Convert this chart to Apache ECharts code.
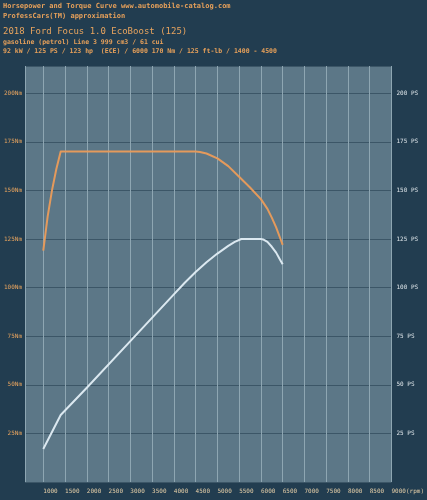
<!DOCTYPE html>
<html>
<head>
<meta charset="utf-8">
<script src="https://cdn.jsdelivr.net/npm/echarts@6/dist/echarts.min.js"></script>
<style>
html,body{margin:0;padding:0;background:#223d50;}
#c{width:427px;height:500px;}
</style>
</head>
<body>
<div id="c"></div>
<script>
const titleLines = [
  'Horsepower and Torque Curve www.automobile-catalog.com',
  'ProfessCars(TM) approximation'
];
const carTitle = '2018 Ford Focus 1.0 EcoBoost (125)';
const specLines = [
  'gasoline (petrol) Line 3 999 cm3 / 61 cui',
  '92 kW / 125 PS / 123 hp  (ECE) / 6000 170 Nm / 125 ft-lb / 1400 - 4500'
];
const torqueRpm = [1000, 1100, 1200, 1300, 1400, 2000, 3000, 4000, 4500, 4600, 4750, 5000, 5250, 5500, 5750, 6000, 6150, 6250, 6350, 6450, 6500];
const torqueNm  = [119, 136.5, 150, 161, 170, 170, 170, 170, 170, 169.8, 169, 166.5, 162.5, 157, 151.5, 145.5, 140.5, 136, 131, 125, 122];
const powerRpm = [1000, 1400, 2000, 3000, 4000, 4250, 4500, 4750, 5000, 5250, 5400, 5550, 6000, 6050, 6150, 6250, 6350, 6450, 6500];
const powerPS  = [17, 34.5, 48.5, 72.5, 96.5, 102.5, 108, 113, 117.5, 121.5, 123.5, 125, 125, 124.8, 123.5, 121, 118, 114, 112];
const yTicks = [25, 50, 75, 100, 125, 150, 175, 200];

const chart = echarts.init(document.getElementById('c'), null, {renderer: 'canvas'});
const mono = 'DejaVu Sans Mono';
const yMax = 214;
chart.setOption({
  backgroundColor: '#223d50',
  animation: false,
  graphic: [
    {type: 'text', left: 3, top: 3, style: {text: titleLines[0], fill: '#e6a05a', font: 'bold 7px "DejaVu Sans Mono"'}},
    {type: 'text', left: 3, top: 13, style: {text: titleLines[1], fill: '#e6a05a', font: 'bold 7px "DejaVu Sans Mono"'}},
    {type: 'text', left: 3, top: 27, style: {text: carTitle, fill: '#e8a45e', font: '9px "DejaVu Sans Mono"'}},
    {type: 'text', left: 3, top: 39, style: {text: specLines[0], fill: '#e6a05a', font: 'bold 6.5px "DejaVu Sans Mono"'}},
    {type: 'text', left: 3, top: 48, style: {text: specLines[1], fill: '#e6a05a', font: 'bold 6.5px "DejaVu Sans Mono"'}}
  ],
  grid: {left: 25, right: 32, top: 66, bottom: 18, show: true, backgroundColor: '#5c7787', borderWidth: 0},
  xAxis: {
    type: 'value', min: 580, max: 9000, splitNumber: 17, minInterval: 500, maxInterval: 500,
    axisLine: {show: false}, axisTick: {show: false},
    axisLabel: {
      color: '#e6cfa8', fontFamily: mono, fontSize: 6, margin: 6, align: 'left',
      showMinLabel: true, showMaxLabel: true,
      formatter: v => (v % 500 !== 0 ? '' : (v === 9000 ? '9000(rpm)' : String(v)))
    },
    splitLine: {show: true, lineStyle: {color: '#8ea6b2', width: 1}}
  },
  yAxis: [
    {
      type: 'value', min: 0, max: yMax, splitNumber: 8, minInterval: 25, maxInterval: 25,
      axisLine: {show: false}, axisTick: {show: false},
      axisLabel: {
        color: '#e8a45e', fontFamily: mono, fontSize: 6, margin: 3,
        formatter: v => (yTicks.includes(v) ? v + 'Nm' : '')
      },
      splitLine: {show: true, lineStyle: {color: '#3c5667', width: 1}}
    },
    {
      type: 'value', min: 0, max: yMax, splitNumber: 8, minInterval: 25, maxInterval: 25, position: 'right',
      axisLine: {show: false}, axisTick: {show: false},
      axisLabel: {
        color: '#dfe6ea', fontFamily: mono, fontSize: 6, margin: 5,
        formatter: v => (yTicks.includes(v) ? v + ' PS' : '')
      },
      splitLine: {show: false}
    }
  ],
  series: [
    {
      type: 'line', name: 'Torque', yAxisIndex: 0, smooth: false, showSymbol: false,
      data: torqueRpm.map((r, i) => [r, torqueNm[i]]),
      lineStyle: {color: '#e49a5c', width: 2, join: 'round'}
    },
    {
      type: 'line', name: 'Power', yAxisIndex: 1, smooth: false, showSymbol: false,
      data: powerRpm.map((r, i) => [r, powerPS[i]]),
      lineStyle: {color: '#dbe8f0', width: 2, join: 'round'}
    }
  ]
});
</script>
</body>
</html>
